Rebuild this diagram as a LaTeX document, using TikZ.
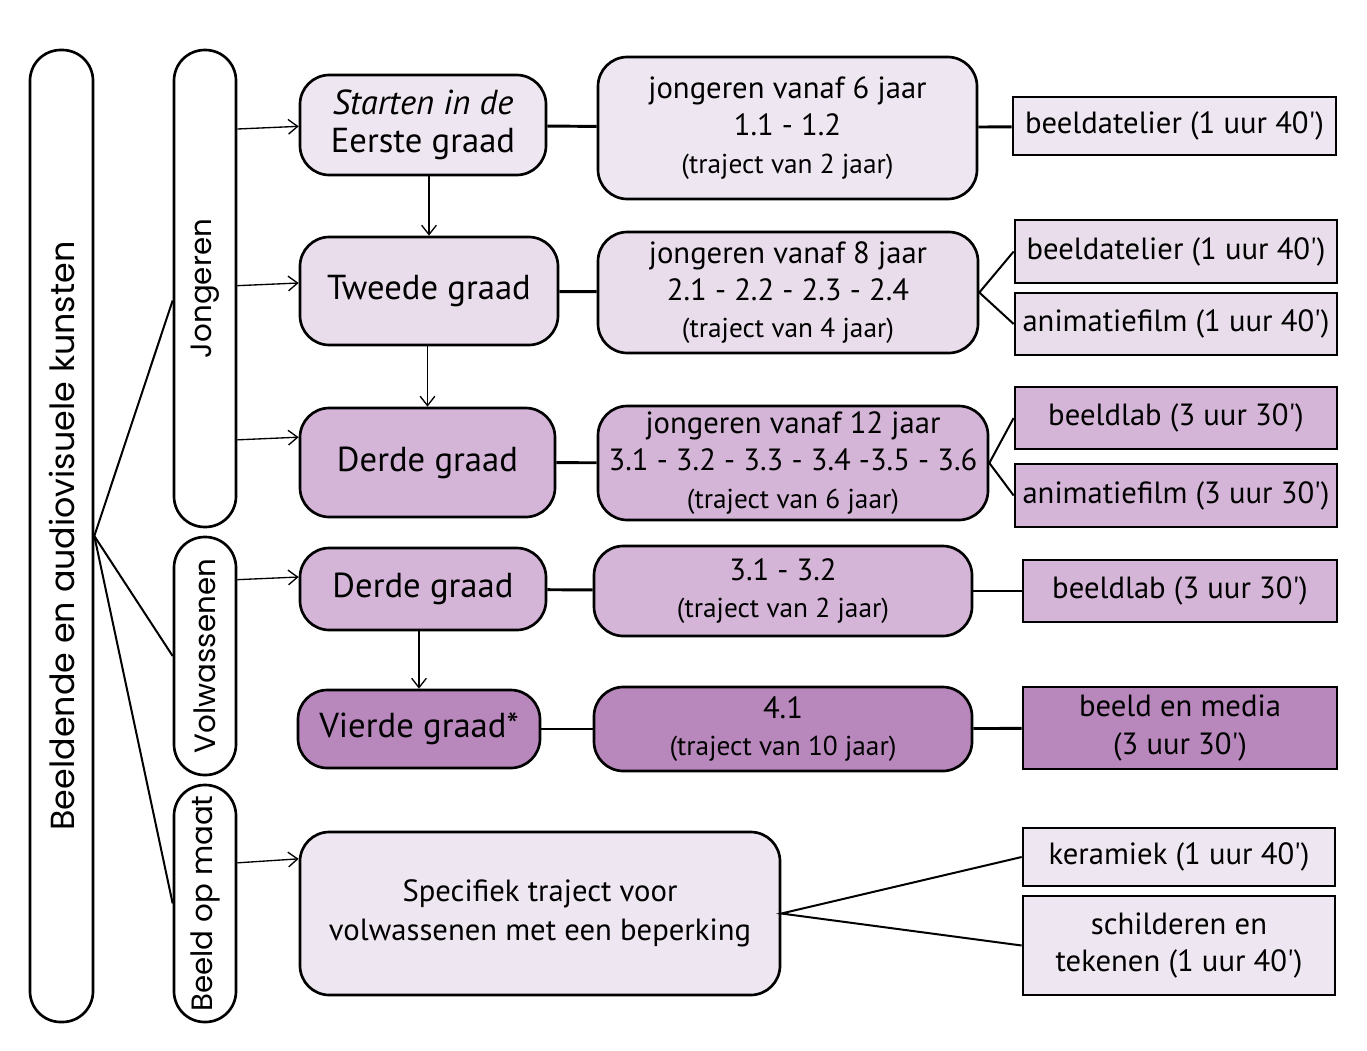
\documentclass[tikz,border=0pt]{standalone}
\usepackage{fontspec}
\setmainfont{PT Sans}
\newfontfamily\geo{Poppins}
\usetikzlibrary{arrows.meta,calc}
\definecolor{cLight}{HTML}{EEE6F0}
\definecolor{cLightB}{HTML}{E9DDEB}
\definecolor{cMid}{HTML}{D4B5D7}
\definecolor{cDark}{HTML}{B888BD}
\newcommand{\sm}[1]{{\fontsize{20.5}{28}\selectfont #1}}
\newcommand{\ap}{\textquotesingle}
\begin{document}
\begin{tikzpicture}[x=0.75pt,y=-0.75pt,
  pill/.style={draw, line width=2pt, rounded corners=23pt, fill=white, inner sep=0pt, rotate=90},
  rbox/.style={draw, line width=2pt, rounded corners=22pt, inner sep=0pt, align=center},
  sbox/.style={draw, line width=2pt, inner sep=0pt, align=center, font=\fontsize{23}{28}\selectfont},
  big/.style={font=\fontsize{26}{28.5}\selectfont},
  mid/.style={font=\fontsize{23}{28}\selectfont},
  link/.style={line width=2.2pt},
  fan/.style={line width=1.5pt},
  arr/.style={line width=1pt, -{Straight Barb[length=7pt,width=11pt]}}
]
\useasboundingbox[fill=white] (0,0) rectangle (1367,1050);
% pills
\node[pill, minimum width=972*0.75pt, minimum height=63*0.75pt, font=\geo\fontsize{25}{28}\selectfont] (bk) at (61.5,536) {Beeldende en audiovisuele kunsten};
\node[pill, minimum width=477*0.75pt, minimum height=62*0.75pt, font=\geo\fontsize{22}{26}\selectfont] (jo) at (205,288.5) {Jongeren};
\node[pill, minimum width=238*0.75pt, minimum height=62*0.75pt, font=\geo\fontsize{22}{26}\selectfont] (vo) at (205,656) {Volwassenen};
\node[pill, minimum width=237*0.75pt, minimum height=62*0.75pt, font=\geo\fontsize{22}{26}\selectfont] (bm) at (205,903.5) {Beeld op maat};
% level 2
\node[rbox, big, fill=cLight, minimum width=246*0.75pt, minimum height=100*0.75pt] (st) at (423,125) {\itshape Starten in de\\Eerste graad};
\node[rbox, big, fill=cLightB, minimum width=258*0.75pt, minimum height=108*0.75pt] (tw) at (429,291) {Tweede graad};
\node[rbox, big, fill=cMid, minimum width=255*0.75pt, minimum height=109*0.75pt] (d3) at (427.5,462.5) {Derde graad};
\node[rbox, big, fill=cMid, minimum width=246*0.75pt, minimum height=82*0.75pt] (dv) at (423,589) {Derde graad};
\node[rbox, big, fill=cDark, minimum width=242*0.75pt, minimum height=78*0.75pt] (v4) at (419,729) {Vierde graad*};
\node[rbox, mid, fill=cLight, minimum width=480*0.75pt, minimum height=163*0.75pt, font=\fontsize{23}{29}\selectfont] (sp) at (540,913.5) {Specifiek traject voor\\volwassenen met een beperking};
% level 3
\node[rbox, mid, fill=cLight, minimum width=379*0.75pt, minimum height=142*0.75pt] (j6) at (787.5,128) {jongeren vanaf 6 jaar\\1.1 - 1.2\\\sm{(traject van 2 jaar)}};
\node[rbox, mid, fill=cLightB, minimum width=380*0.75pt, minimum height=121*0.75pt] (j8) at (788,292.5) {jongeren vanaf 8 jaar\\2.1 - 2.2 - 2.3 - 2.4\\\sm{(traject van 4 jaar)}};
\node[rbox, mid, fill=cMid, minimum width=390*0.75pt, minimum height=114*0.75pt] (j12) at (793,463) {jongeren vanaf 12 jaar\\3.1 - 3.2 - 3.3 - 3.4 -3.5 - 3.6\\\sm{(traject van 6 jaar)}};
\node[rbox, mid, fill=cMid, minimum width=378*0.75pt, minimum height=90*0.75pt] (t31) at (783,591) {3.1 - 3.2\\\sm{(traject van 2 jaar)}};
\node[rbox, mid, fill=cDark, minimum width=378*0.75pt, minimum height=84*0.75pt] (t41) at (783,729) {4.1\\\sm{(traject van 10 jaar)}};
% level 4
\node[sbox, fill=cLight, minimum width=323*0.75pt, minimum height=58*0.75pt] (a1) at (1174.5,126) {beeldatelier (1 uur 40\ap)};
\node[sbox, fill=cLightB, minimum width=322*0.75pt, minimum height=63*0.75pt] (a2) at (1176,251.5) {beeldatelier (1 uur 40\ap)};
\node[sbox, fill=cLightB, minimum width=322*0.75pt, minimum height=62*0.75pt] (a3) at (1176,324) {animatiefilm (1 uur 40\ap)};
\node[sbox, fill=cMid, minimum width=322*0.75pt, minimum height=62*0.75pt] (a4) at (1176,418) {beeldlab (3 uur 30\ap)};
\node[sbox, fill=cMid, minimum width=322*0.75pt, minimum height=63*0.75pt] (a5) at (1176,495.5) {animatiefilm (3 uur 30\ap)};
\node[sbox, fill=cMid, minimum width=314*0.75pt, minimum height=62*0.75pt] (a6) at (1180,591) {beeldlab (3 uur 30\ap)};
\node[sbox, fill=cDark, minimum width=314*0.75pt, minimum height=82*0.75pt] (a7) at (1180,728) {beeld en media\\(3 uur 30\ap)};
\node[sbox, fill=cLight, minimum width=312*0.75pt, minimum height=58*0.75pt] (a8) at (1179,857) {keramiek (1 uur 40\ap)};
\node[sbox, fill=cLight, minimum width=312*0.75pt, minimum height=99*0.75pt] (a9) at (1179,945.5) {schilderen en\\tekenen (1 uur 40\ap)};
% entry points
\coordinate (stin) at ([yshift=-1pt]st.west);
\coordinate (twin) at ([yshift=6pt]tw.west);
\coordinate (d3in) at ([yshift=19pt]d3.west);
\coordinate (dvin) at ([yshift=9pt]dv.west);
\coordinate (spin) at ([yshift=41pt]sp.west);
\coordinate (join) at ([yshift=-9pt]jo.north);
% fan from main pill
\draw[fan] (join) -- (bk.south) -- (vo.north);
\draw[fan] (bk.south) -- (bm.north);
% arrows
\draw[arr] ([yshift=-2pt]jo.south |- stin) -- (stin);
\draw[arr] ([yshift=-2pt]jo.south |- twin) -- (twin);
\draw[arr] ([yshift=-2pt]jo.south |- d3in) -- (d3in);
\draw[arr] ([yshift=-2pt]vo.south |- dvin) -- (dvin);
\draw[arr] ([yshift=-3pt]bm.south |- spin) -- (spin);
\draw[arr] (st.south -| tw.north) -- (tw.north);
\draw[arr] (tw.south -| d3.north) -- (d3.north);
\draw[arr] (dv.south -| v4.north) -- (v4.north);
% links
\draw[link] (st) -- (j6);
\draw[link] (tw) -- (j8);
\draw[link] (d3) -- (j12);
\draw[link] (dv) -- (t31);
\draw[link] (v4) -- (t41);
\draw[link] (j6) -- (a1);
\draw[link] (t31) -- (a6);
\draw[link] (t41) -- (a7);
\draw[fan] (a2.west) -- (j8.east) -- (a3.west);
\draw[fan] (a4.west) -- (j12.east) -- (a5.west);
\draw[fan] (a8.west) -- (sp.east) -- (a9.west);
\end{tikzpicture}
\end{document}
